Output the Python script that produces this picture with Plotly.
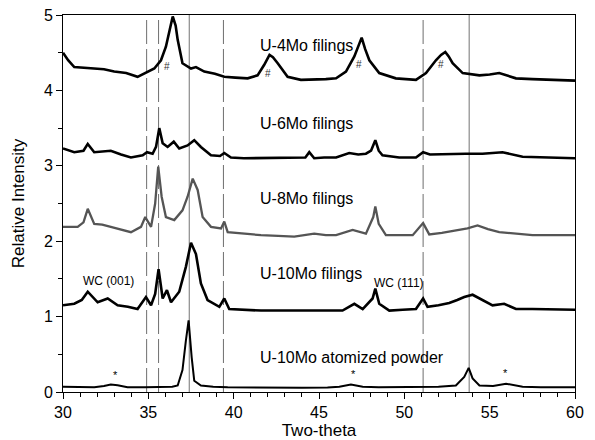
import plotly.graph_objects as go

# ---- data ----
u4_x = [30.0, 30.3, 30.66, 31.2, 31.83, 32.4, 33.0, 33.7, 34.37, 34.86, 35.35, 35.74, 36.03, 36.25, 36.43, 36.6, 36.72, 37.0, 37.5, 37.79, 38.28, 38.9, 39.45, 40.1, 40.82, 41.4, 41.79, 42.1, 42.3, 42.58, 43.16, 43.94, 44.82, 45.4, 46.0, 46.58, 47.07, 47.3, 47.5, 47.7, 47.95, 48.53, 49.5, 50.68, 51.27, 51.85, 52.15, 52.4, 52.6, 52.83, 53.42, 54.4, 55.0, 55.56, 56.54, 57.5, 58.49, 59.2, 60.0]
u4_y = [4.50, 4.40, 4.31, 4.30, 4.29, 4.28, 4.25, 4.23, 4.18, 4.24, 4.29, 4.40, 4.58, 4.80, 4.98, 4.86, 4.67, 4.36, 4.29, 4.31, 4.25, 4.22, 4.18, 4.17, 4.16, 4.20, 4.34, 4.47, 4.44, 4.36, 4.18, 4.14, 4.14, 4.15, 4.16, 4.25, 4.45, 4.58, 4.70, 4.55, 4.40, 4.23, 4.16, 4.14, 4.23, 4.40, 4.47, 4.51, 4.45, 4.36, 4.23, 4.20, 4.21, 4.23, 4.16, 4.15, 4.14, 4.14, 4.13]

u6_x = [30.0, 30.66, 31.2, 31.45, 31.83, 32.3, 32.8, 33.4, 33.98, 34.67, 34.92, 35.25, 35.45, 35.64, 35.84, 36.13, 36.49, 36.81, 37.3, 37.69, 38.08, 38.67, 39.2, 39.45, 39.84, 40.6, 41.6, 42.6, 43.55, 44.2, 44.43, 44.72, 45.3, 46.0, 46.77, 47.3, 47.75, 48.05, 48.3, 48.5, 48.72, 49.7, 50.68, 51.1, 51.5, 52.63, 53.6, 54.58, 55.75, 56.93, 58.0, 59.0, 60.0]
u6_y = [3.23, 3.18, 3.20, 3.29, 3.18, 3.19, 3.20, 3.15, 3.11, 3.14, 3.18, 3.16, 3.25, 3.50, 3.30, 3.25, 3.32, 3.23, 3.27, 3.34, 3.25, 3.14, 3.13, 3.17, 3.11, 3.10, 3.10, 3.10, 3.10, 3.11, 3.18, 3.10, 3.11, 3.11, 3.17, 3.15, 3.16, 3.20, 3.34, 3.20, 3.14, 3.11, 3.11, 3.18, 3.15, 3.16, 3.16, 3.16, 3.18, 3.12, 3.11, 3.10, 3.10]

u8_x = [30.0, 30.86, 31.2, 31.45, 31.83, 32.3, 32.8, 33.4, 33.98, 34.57, 34.82, 35.16, 35.4, 35.58, 35.78, 36.03, 36.52, 37.0, 37.3, 37.6, 37.89, 38.18, 38.67, 39.26, 39.45, 39.65, 40.6, 41.6, 42.6, 43.55, 44.72, 45.4, 46.0, 46.97, 47.75, 48.18, 48.3, 48.5, 48.92, 49.7, 50.49, 51.1, 51.46, 52.2, 53.02, 53.7, 54.29, 54.9, 55.56, 56.5, 57.51, 58.7, 60.0]
u8_y = [2.19, 2.19, 2.25, 2.43, 2.23, 2.22, 2.19, 2.15, 2.12, 2.19, 2.32, 2.19, 2.50, 2.99, 2.59, 2.32, 2.28, 2.41, 2.59, 2.83, 2.68, 2.32, 2.19, 2.17, 2.26, 2.12, 2.10, 2.08, 2.07, 2.06, 2.10, 2.08, 2.08, 2.15, 2.10, 2.32, 2.46, 2.23, 2.08, 2.08, 2.08, 2.24, 2.09, 2.11, 2.14, 2.17, 2.21, 2.16, 2.12, 2.10, 2.08, 2.08, 2.08]

u10_x = [30.0, 30.66, 31.1, 31.45, 32.03, 32.62, 33.2, 33.8, 34.37, 34.86, 35.16, 35.4, 35.6, 35.84, 36.09, 36.33, 36.81, 37.2, 37.5, 37.79, 38.08, 38.47, 39.16, 39.45, 39.74, 40.6, 41.6, 42.6, 43.6, 44.82, 45.6, 46.38, 47.07, 47.56, 48.14, 48.3, 48.53, 49.12, 49.9, 50.68, 51.1, 51.36, 52.0, 52.63, 53.1, 53.51, 54.0, 54.58, 55.17, 55.85, 56.54, 57.5, 58.49, 59.2, 60.0]
u10_y = [1.15, 1.17, 1.22, 1.33, 1.19, 1.24, 1.15, 1.13, 1.10, 1.26, 1.15, 1.30, 1.63, 1.24, 1.35, 1.19, 1.33, 1.66, 1.98, 1.83, 1.44, 1.22, 1.13, 1.24, 1.10, 1.09, 1.08, 1.08, 1.08, 1.08, 1.08, 1.08, 1.17, 1.10, 1.24, 1.37, 1.17, 1.08, 1.09, 1.10, 1.24, 1.13, 1.15, 1.18, 1.22, 1.26, 1.29, 1.22, 1.15, 1.17, 1.10, 1.10, 1.10, 1.09, 1.09]

pw_x = [30.0, 31.0, 31.83, 32.4, 32.8, 33.2, 33.78, 34.8, 35.74, 36.4, 36.72, 37.0, 37.2, 37.36, 37.54, 37.69, 38.08, 38.8, 39.65, 41.0, 42.5, 44.0, 45.5, 46.19, 46.87, 47.56, 48.5, 49.5, 50.68, 52.0, 53.02, 53.51, 53.77, 54.0, 54.4, 55.2, 55.96, 56.93, 58.0, 59.0, 60.0]
pw_y = [0.07, 0.07, 0.064, 0.08, 0.10, 0.09, 0.064, 0.064, 0.064, 0.07, 0.086, 0.29, 0.68, 0.95, 0.46, 0.15, 0.086, 0.07, 0.064, 0.06, 0.06, 0.056, 0.06, 0.07, 0.10, 0.07, 0.064, 0.064, 0.064, 0.07, 0.086, 0.20, 0.32, 0.18, 0.086, 0.08, 0.11, 0.07, 0.064, 0.06, 0.064]

dashed_lines_x = [34.9, 35.6, 39.4, 51.1]
solid_lines_x = [37.4, 53.8]

label_texts = ["U-4Mo filings", "U-6Mo filings", "U-8Mo filings", "U-10Mo filings", "U-10Mo atomized powder"]
label_x = [41.45, 41.45, 41.45, 41.45, 41.45]
label_y = [4.60, 3.56, 2.57, 1.57, 0.46]

wc_texts = ["WC (001)", "WC (111)"]
wc_x = [32.64, 49.66]
wc_y = [1.47, 1.44]

hash_x = [36.09, 42.03, 47.36, 52.14]
hash_y = [4.32, 4.22, 4.34, 4.34]

star_x = [33.05, 47.05, 55.95]
star_y = [0.23, 0.24, 0.25]

FONT = "Liberation Sans, Arial, Helvetica, sans-serif"

fig = go.Figure()

for vx in dashed_lines_x:
    fig.add_vline(x=vx, line=dict(color="#6e6e6e", width=1, dash="24px,5px"), layer="below")
for vx in solid_lines_x:
    fig.add_vline(x=vx, line=dict(color="#8a8a8a", width=1.2), layer="below")

series = [
    (u4_x, u4_y, "black", 2.6),
    (u6_x, u6_y, "black", 2.6),
    (u8_x, u8_y, "#555555", 2.3),
    (u10_x, u10_y, "black", 2.6),
    (pw_x, pw_y, "black", 2.0),
]
for xs, ys, col, w in series:
    fig.add_trace(go.Scatter(x=xs, y=ys, mode="lines", line=dict(color=col, width=w),
                             showlegend=False, hoverinfo="skip"))

for t, x, y in zip(label_texts, label_x, label_y):
    fig.add_annotation(x=x, y=y, text=t, showarrow=False, xanchor="left", yanchor="middle",
                       font=dict(family=FONT, size=16, color="black"))
for t, x, y in zip(wc_texts, wc_x, wc_y):
    fig.add_annotation(x=x, y=y, text=t, showarrow=False, xanchor="center", yanchor="middle",
                       font=dict(family=FONT, size=12, color="black"))
for x, y in zip(hash_x, hash_y):
    fig.add_annotation(x=x, y=y, text="#", showarrow=False, xanchor="center", yanchor="middle",
                       font=dict(family=FONT, size=10, color="#333333"))
for x, y in zip(star_x, star_y):
    fig.add_annotation(x=x, y=y, text="*", showarrow=False, xanchor="center", yanchor="middle",
                       font=dict(family=FONT, size=11, color="black"))

fig.update_layout(
    width=595, height=440,
    margin=dict(l=63, r=20, t=15, b=48, autoexpand=False),
    paper_bgcolor="white", plot_bgcolor="white",
    font=dict(family=FONT, size=16, color="black"),
    showlegend=False,
)
fig.update_xaxes(range=[30, 60], dtick=5, tick0=30, ticks="outside", ticklen=6, tickwidth=1,
                 tickcolor="black", showline=True, linecolor="black", linewidth=1, mirror=True,
                 showgrid=False, zeroline=False, automargin=False,
                 minor=dict(dtick=1, ticks="outside", ticklen=4, tickcolor="black", showgrid=False),
                 title=dict(text="Two-theta", font=dict(size=17), standoff=2),
                 tickfont=dict(size=16))
fig.update_yaxes(range=[0, 5], dtick=1, tick0=0, ticks="outside", ticklen=6, tickwidth=1,
                 tickcolor="black", showline=True, linecolor="black", linewidth=1, mirror=True,
                 showgrid=False, zeroline=False, automargin=False,
                 minor=dict(dtick=0.5, ticks="outside", ticklen=4, tickcolor="black", showgrid=False),
                 title=dict(text="Relative Intensity", font=dict(size=17), standoff=14),
                 tickfont=dict(size=16))

fig.write_html("out.html", config={"displayModeBar": False},
               post_script="document.body.style.margin='0';")
